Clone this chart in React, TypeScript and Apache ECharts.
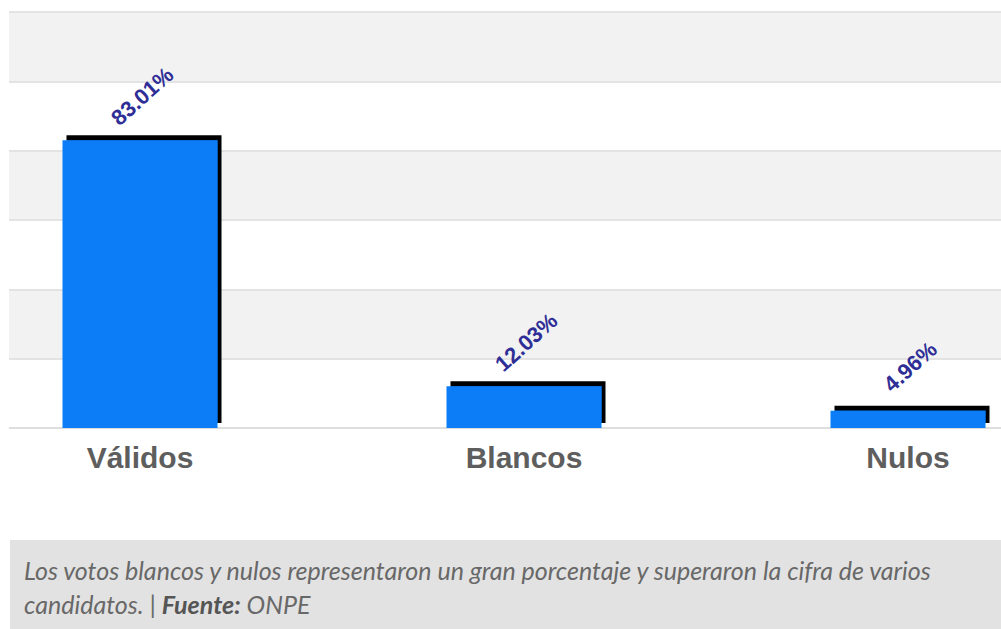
import React, { useEffect, useRef } from "react";
import * as echarts from "echarts";

const categories = ["Válidos", "Blancos", "Nulos"];
const values = [83.01, 12.03, 4.96];
const valueLabels = ["83.01%", "12.03%", "4.96%"];
const captionLine1 = "Los votos blancos y nulos representaron un gran porcentaje y superaron la cifra de varios";
const captionLine2a = "candidatos. | ";
const captionBold = "Fuente:";
const captionLine2b = " ONPE";

export default function App() {
  const ref = useRef<HTMLDivElement>(null);
  useEffect(() => {
    if (!ref.current) return;
    const chart = echarts.init(ref.current, null, { renderer: "svg" });
    chart.setOption({
      animation: false,
      backgroundColor: "#ffffff",
      grid: {
        left: -52,
        top: 12,
        width: 1152,
        height: 416,
        containLabel: false,
        outerBoundsMode: "none",
      },
      xAxis: {
        type: "category",
        data: categories,
        axisLine: { show: true, lineStyle: { color: "#dedede", width: 2 } },
        axisTick: { show: false },
        axisLabel: {
          margin: 14,
          fontSize: 30,
          fontWeight: "bold",
          color: "#5e5e5e",
          fontFamily: "Liberation Sans, Arial, sans-serif",
        },
      },
      yAxis: {
        type: "value",
        min: 0,
        max: 120,
        interval: 20,
        axisLabel: { show: false },
        axisLine: { show: false },
        axisTick: { show: false },
        splitLine: { show: true, lineStyle: { color: "#e3e3e3", width: 2 } },
        splitArea: { show: true, areaStyle: { color: ["#ffffff", "#f2f2f2"] } },
      },
      series: [
        {
          type: "bar",
          data: values,
          barWidth: 155,
          itemStyle: {
            color: "#0a7cf7",
            shadowColor: "#000000",
            shadowOffsetX: 4,
            shadowOffsetY: -5,
            shadowBlur: 0,
          },
          label: {
            show: true,
            position: "top",
            distance: 42,
            rotate: 42,
            align: "center",
            verticalAlign: "middle",
            offset: [3, 0],
            fontSize: 22,
            fontWeight: "bold",
            color: "#2e2e96",
            fontFamily: "Liberation Sans, Arial, sans-serif",
            formatter: (p: any) => valueLabels[p.dataIndex],
          },
        },
      ],
      graphic: [
        {
          type: "rect",
          z: 100,
          shape: { x: 0, y: 0, width: 9, height: 432 },
          style: { fill: "#ffffff" },
        },
        {
          type: "rect",
          z: 100,
          shape: { x: 10, y: 540, width: 991, height: 89 },
          style: { fill: "#e2e2e2" },
        },
        {
          type: "text",
          z: 101,
          x: 24,
          y: 553,
          style: {
            text:
              "{a|" + captionLine1 + "}\n{a|" + captionLine2a + "}{b|" + captionBold + "}{a|" + captionLine2b + "}",
            rich: {
              a: {
                fontSize: 25,
                fontStyle: "italic",
                fontFamily: "Lato, sans-serif",
                fill: "#686868",
                color: "#686868",
                lineHeight: 34,
              },
              b: {
                fontSize: 25,
                fontStyle: "italic",
                fontWeight: "bold",
                fontFamily: "Lato, sans-serif",
                fill: "#555555",
                color: "#555555",
                lineHeight: 34,
              },
            },
          },
        },
      ],
    });
    return () => chart.dispose();
  }, []);
  return (
    <div
      ref={ref}
      style={{ position: "absolute", left: 0, top: 0, width: 1001, height: 629 }}
    />
  );
}
